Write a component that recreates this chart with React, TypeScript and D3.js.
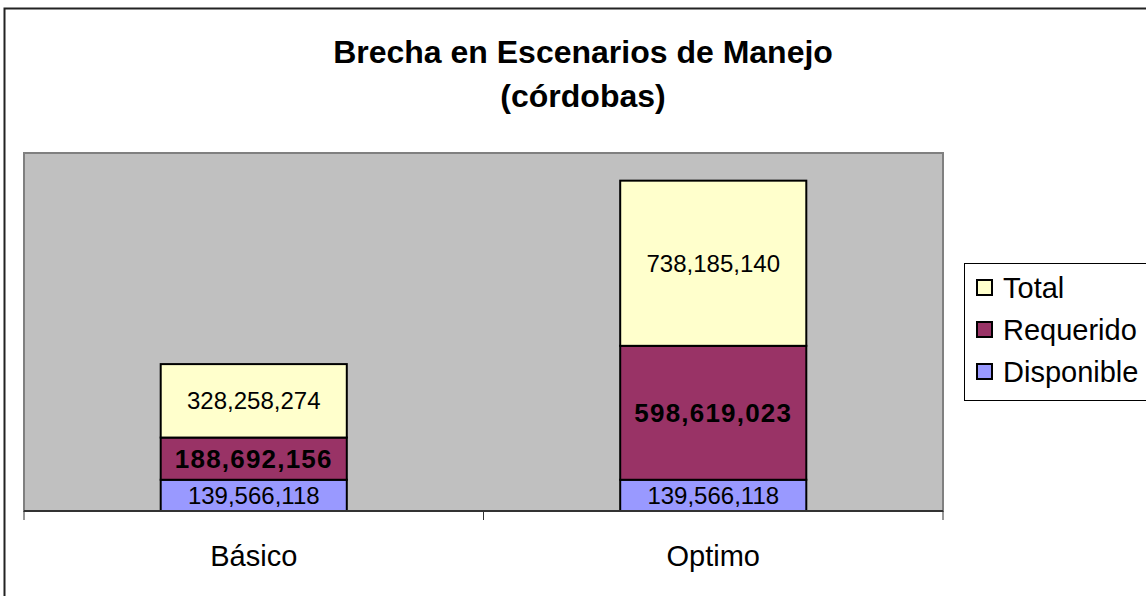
import React from "react";
import * as d3 from "d3";

const categories = ["Básico", "Optimo"];
const seriesNames = ["Disponible", "Requerido", "Total"];
const disponible = [139566118, 139566118];
const requerido = [188692156, 598619023];
const total = [328258274, 738185140];
const axisMax = 1600000000;

const colors: Record<string, string> = {
  Disponible: "#9999FF",
  Requerido: "#993366",
  Total: "#FFFFCC",
};
const legendOrder = ["Total", "Requerido", "Disponible"];

export default function App() {
  const W = 1146, H = 596;
  const plot = { x0: 24, x1: 943, y0: 153, y1: 511 };
  const x = d3.scaleBand<string>().domain(categories).range([plot.x0, plot.x1]).paddingInner(0).paddingOuter(0);
  const y = d3.scaleLinear().domain([0, axisMax]).range([plot.y1, plot.y0]);
  const rows = categories.map((c, i) => ({ cat: c, Disponible: disponible[i], Requerido: requerido[i], Total: total[i] }));
  const stack = d3.stack<any>().keys(seriesNames)(rows);
  const barW = x.bandwidth() * 0.405;
  const font = "'Liberation Sans', Arial, sans-serif";
  const fmt = d3.format(",");

  return (
    <svg width={W} height={H} style={{ position: "absolute", left: 0, top: 0 }} fontFamily={font}>
      <rect x={0} y={0} width={W} height={H} fill="#fff" />
      <rect x={4.5} y={8.5} width={W + 10} height={H + 10} fill="#fff" stroke="#222" strokeWidth={2} />
      <text x={583} y={63} textAnchor="middle" fontSize={32} fontWeight="bold">Brecha en Escenarios de Manejo</text>
      <text x={583} y={107} textAnchor="middle" fontSize={32} fontWeight="bold">(córdobas)</text>
      <rect x={plot.x0} y={plot.y0} width={plot.x1 - plot.x0} height={plot.y1 - plot.y0} fill="#C0C0C0" stroke="#808080" strokeWidth={2} />
      {stack.map((s) =>
        s.map((d, i) => {
          const cx = (x(categories[i]) as number) + x.bandwidth() / 2;
          const top = y(d[1]);
          const bot = y(d[0]);
          const key = s.key;
          const bold = key === "Requerido";
          return (
            <g key={key + i}>
              <rect x={cx - barW / 2} y={top} width={barW} height={bot - top} fill={colors[key]} stroke="#000" strokeWidth={2} />
              <text x={cx} y={(top + bot) / 2} dy="0.36em" textAnchor="middle" fontSize={bold ? 26 : 24}
                letterSpacing={bold ? 1.2 : 0}
                fontWeight={bold ? "bold" : "normal"} fill="#000">{fmt(d[1] - d[0])}</text>
            </g>
          );
        })
      )}
      <line x1={plot.x0} x2={plot.x1} y1={plot.y1} y2={plot.y1} stroke="#333" strokeWidth={2} />
      {[plot.x0, ...categories.map((c) => (x(c) as number) + x.bandwidth())].map((tx, i) => (
        <line key={i} x1={tx} x2={tx} y1={plot.y1} y2={plot.y1 + 9} stroke="#333" strokeWidth={1} />
      ))}
      {categories.map((c) => (
        <text key={c} x={(x(c) as number) + x.bandwidth() / 2} y={566} textAnchor="middle" fontSize={29}>{c}</text>
      ))}
      <rect x={964.5} y={263.5} width={200} height={137} fill="#fff" stroke="#000" strokeWidth={1} />
      {legendOrder.map((k, i) => (
        <g key={k} transform={`translate(0, ${288 + i * 42})`}>
          <rect x={977} y={-8} width={15} height={15} fill={colors[k]} stroke="#000" strokeWidth={2} />
          <text x={1003} y={0} dy="0.36em" fontSize={29}>{k}</text>
        </g>
      ))}
    </svg>
  );
}
